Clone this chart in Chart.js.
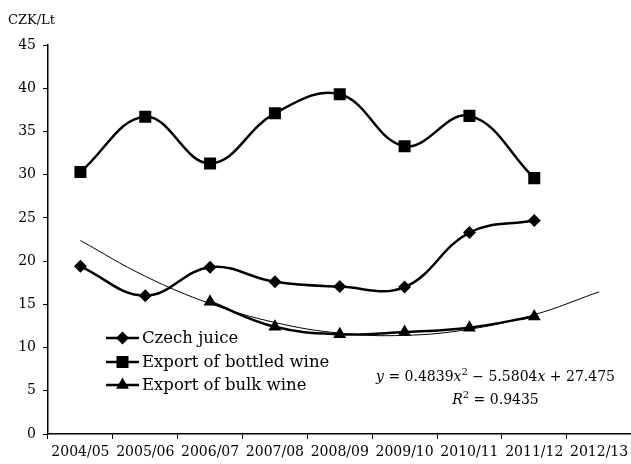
<!DOCTYPE html>
<html>
<head>
<meta charset="utf-8">
<script src="https://cdn.jsdelivr.net/npm/chart.js@4/dist/chart.umd.min.js"></script>
<style>
  html, body { margin: 0; padding: 0; background: #fff; overflow: hidden; }
  #wrap { position: relative; width: 631px; height: 464px; overflow: hidden; }
  #c { display: block; }
</style>
</head>
<body>
<div id="wrap"><canvas id="c" width="640" height="464"></canvas></div>
<script>
// Marketing years on the x axis
const seasons = ['2004/05', '2005/06', '2006/07', '2007/08', '2008/09', '2009/10', '2010/11', '2011/12', '2012/13'];

// Prices, CZK per litre
const czechJuice   = [19.4, 16.0, 19.3, 17.6, 17.05, 17.0, 23.3, 24.7, null];
const bottledWine  = [30.3, 36.7, 31.3, 37.1, 39.3, 33.3, 36.8, 29.6, null];
const bulkWine     = [null, null, 15.3, 12.4, 11.55, 11.8, 12.3, 13.6, null];

// Polynomial trend of the bulk wine price, y = 0.4839x² − 5.5804x + 27.475 at x = 1..9
const bulkTrend    = [22.38, 18.25, 15.09, 12.90, 11.67, 11.41, 12.12, 13.80, 16.45];

const yTicks = [0, 5, 10, 15, 20, 25, 30, 35, 40, 45];

const FONT = '"DejaVu Serif", "Liberation Serif", serif';

const lineStyle = {
  borderColor: '#000',
  backgroundColor: '#000',
  pointBackgroundColor: '#000',
  pointBorderColor: '#000',
  borderWidth: 2.5,
  tension: 0.4,
  pointBorderWidth: 0,
  pointHoverRadius: 0
};

const series = [
  Object.assign({ label: 'Czech juice', data: czechJuice, pointStyle: 'rectRot', pointRadius: 6.5 }, lineStyle),
  Object.assign({ label: 'Export of bottled wine', data: bottledWine, pointStyle: 'rect', pointRadius: 8.5 }, lineStyle),
  Object.assign({ label: 'Export of bulk wine', data: bulkWine, pointStyle: 'triangle', pointRadius: 7.5 }, lineStyle),
  {
    label: 'trend',
    data: bulkTrend,
    borderColor: '#000',
    borderWidth: 1,
    pointRadius: 0,
    tension: 0.4,
    fill: false
  }
];

// Axis caption above the value scale
const axisCaption = {
  id: 'axisCaption',
  afterDraw(chart) {
    const ctx = chart.ctx;
    ctx.save();
    ctx.fillStyle = '#000';
    ctx.font = '13px ' + FONT;
    ctx.textAlign = 'left';
    ctx.textBaseline = 'middle';
    ctx.fillText('CZK/Lt', 8, 21);
    ctx.restore();
  }
};

// Legend drawn inside the plot: line sample with the series marker
const insideLegend = {
  id: 'insideLegend',
  afterDraw(chart) {
    const ctx = chart.ctx;
    const rows = [338, 362, 385];
    ctx.save();
    for (let i = 0; i < 3; i++) {
      const ds = chart.data.datasets[i];
      const y = rows[i];
      ctx.strokeStyle = '#000';
      ctx.lineWidth = 2.5;
      ctx.beginPath();
      ctx.moveTo(106, y);
      ctx.lineTo(139, y);
      ctx.stroke();
      ctx.fillStyle = '#000';
      Chart.helpers.drawPoint(ctx, {
        pointStyle: ds.pointStyle,
        radius: ds.pointRadius,
        borderWidth: 0,
        rotation: 0
      }, 122.5, y);
      ctx.font = '16.5px ' + FONT;
      ctx.textAlign = 'left';
      ctx.textBaseline = 'middle';
      ctx.fillText(ds.label, 142, y + 0.5);
    }
    ctx.restore();
  }
};

// Trend equation and coefficient of determination
const trendLabel = {
  id: 'trendLabel',
  afterDraw(chart) {
    const ctx = chart.ctx;
    const normal = '14px ' + FONT;
    const italic = 'italic 14px ' + FONT;
    const sup = '10px ' + FONT;
    const drawRuns = (runs, cx, cy) => {
      let w = 0;
      runs.forEach(r => { ctx.font = r.f; w += ctx.measureText(r.t).width; });
      let x = cx - w / 2;
      runs.forEach(r => {
        ctx.font = r.f;
        ctx.fillText(r.t, x, cy + (r.up || 0));
        x += ctx.measureText(r.t).width;
      });
    };
    ctx.save();
    ctx.fillStyle = '#000';
    ctx.textAlign = 'left';
    ctx.textBaseline = 'middle';
    drawRuns([
      { t: 'y', f: italic }, { t: ' = 0.4839', f: normal }, { t: 'x', f: italic },
      { t: '2', f: sup, up: -5 }, { t: ' \u2212 5.5804', f: normal }, { t: 'x', f: italic },
      { t: ' + 27.475', f: normal }
    ], 495.5, 377);
    drawRuns([
      { t: 'R', f: italic }, { t: '2', f: sup, up: -5 }, { t: ' = 0.9435', f: normal }
    ], 495.5, 400);
    ctx.restore();
  }
};

new Chart(document.getElementById('c'), {
  type: 'line',
  data: { labels: seasons, datasets: series },
  plugins: [axisCaption, insideLegend, trendLabel],
  options: {
    responsive: false,
    animation: false,
    events: [],
    layout: { padding: { top: 45, right: 0, left: 0, bottom: 0 } },
    plugins: {
      legend: { display: false },
      tooltip: { enabled: false },
      title: { display: false }
    },
    scales: {
      x: {
        type: 'category',
        offset: true,
        grid: {
          offset: true,
          drawOnChartArea: false,
          drawTicks: true,
          tickLength: 5,
          color: '#000',
          lineWidth: 1
        },
        border: { display: true, color: '#000', width: 1.5 },
        ticks: {
          color: '#000',
          font: { family: FONT, size: 14 },
          padding: 5,
          maxRotation: 0,
          autoSkip: false
        },
        afterFit(scale) { scale.height = 30; }
      },
      y: {
        min: 0,
        max: 45,
        afterBuildTicks(scale) { scale.ticks = yTicks.map(v => ({ value: v })); },
        grid: {
          drawOnChartArea: false,
          drawTicks: true,
          tickLength: 5,
          color: '#000',
          lineWidth: 1
        },
        border: { display: true, color: '#000', width: 1.5 },
        ticks: {
          color: '#000',
          font: { family: FONT, size: 14 },
          padding: 7
        },
        afterFit(scale) { scale.width = 48; }
      }
    }
  }
});
</script>
</body>
</html>
